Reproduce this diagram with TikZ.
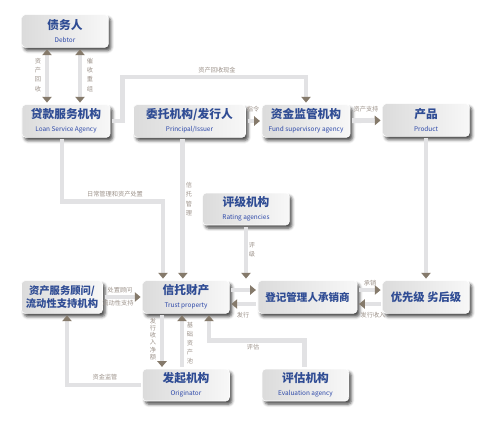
\documentclass[tikz,border=0pt]{standalone}
\usepackage{fontspec}
\setmainfont{Noto Sans CJK SC}
\usepackage{tikz}
\usetikzlibrary{arrows.meta, shadows.blur, calc}
\definecolor{linec}{HTML}{E2E2E4}
\definecolor{tipc}{HTML}{857A6B}
\definecolor{lblc}{HTML}{9C928A}
\definecolor{ttlc}{HTML}{2F4C94}
\definecolor{subc}{HTML}{2A46A8}
\newcommand{\subf}{\fontsize{5.5}{6.5}\selectfont\mdseries\color{subc}}
\tikzset{
    ibox/.style={rectangle, rounded corners=3pt, draw=white, line width=0.5pt,
                 left color=gray!28, right color=gray!6, align=center,
                 minimum width=2.6cm, minimum height=0.98cm, inner sep=1pt,
                 font=\fontsize{10}{12}\selectfont\bfseries, text=ttlc,
                 blur shadow={shadow xshift=2.2pt, shadow yshift=-2.8pt,
                              shadow blur radius=2.5pt, shadow opacity=70}},
    conn/.style={line width=4.2pt, draw=linec, shorten >=1.5pt, shorten <=1.5pt},
    arr/.style={conn, -{Triangle[color=tipc, length=5pt, width=8pt]}},
    arrboth/.style={conn, {Triangle[color=tipc, length=5pt, width=8pt]}-{Triangle[color=tipc, length=5pt, width=8pt]}},
    lbl/.style={font=\fontsize{5.3}{6}\selectfont, text=lblc, inner sep=0pt},
    vlbl/.style={lbl, align=center, font=\fontsize{5.3}{7.8}\selectfont}
}
\begin{document}
\begin{tikzpicture}[x=0.03cm, y=-0.03cm]
\useasboundingbox (0,0) rectangle (487,423);
% ── Top row ───────────────────────────────────────────────────────────
\node[ibox] at (65,31)    (debtor)  {债务人\\[-1pt]{\subf Debtor}};
\node[ibox, minimum width=2.64cm] at (66,121) (lsa) {贷款服务机构\\[-1pt]{\subf Loan Service Agency}};
\node[ibox, minimum width=3.36cm] at (189.5,121) (issuer) {委托机构/发行人\\[-1pt]{\subf Principal/Issuer}};
\node[ibox, minimum width=2.64cm] at (306,121) (fund) {资金监管机构\\[-1pt]{\subf Fund supervisory agency}};
\node[ibox] at (426,120)  (product) {产品\\[-1pt]{\subf Product}};

% ── Middle ────────────────────────────────────────────────────────────
\node[ibox, minimum height=0.96cm] at (246,209) (rating) {评级机构\\[-1pt]{\subf Rating agencies}};
\node[ibox, minimum width=2.43cm, font=\fontsize{8.8}{11}\selectfont\bfseries] at (62,297) (advisor) {资产服务顾问/\\流动性支持机构};
\node[ibox] at (186,297)  (trust)   {信托财产\\[-1pt]{\subf Trust property}};
\node[ibox, minimum width=2.97cm, font=\fontsize{9}{11}\selectfont\bfseries] at (307.5,297) (registrar) {登记管理人承销商};
\node[ibox, font=\fontsize{9.6}{11}\selectfont\bfseries] at (426,297) (tranche) {优先级\ 劣后级};

% ── Bottom row ────────────────────────────────────────────────────────
\node[ibox, minimum height=0.96cm] at (186,385) (originator) {发起机构\\[-1pt]{\subf Originator}};
\node[ibox, minimum height=0.96cm] at (305.5,385) (evaluation) {评估机构\\[-1pt]{\subf Evaluation agency}};

% ── Connectors ────────────────────────────────────────────────────────
\draw[arrboth] ([xshift=-0.54cm]debtor.south) -- ([xshift=-0.54cm]debtor.south |- lsa.north);
\draw[arrboth] ([xshift=0.45cm]debtor.south) -- ([xshift=0.45cm]debtor.south |- lsa.north);
\draw[arr] (lsa.east) -- ++(12,0) -- ++(0,-44) -| (fund.north);
\draw[arr] (issuer) -- (fund);
\draw[arr] (fund) -- (product);
\draw[arr] (product) -- (tranche);

\draw[arr] ([xshift=-0.12cm]lsa.south) -- ++(0,64) -| ([xshift=-0.69cm]trust.north);
\draw[arr] ([xshift=-0.2cm]issuer.south) -- ([xshift=-0.2cm]issuer.south |- trust.north);
\draw[arr] (rating.south) -- (rating.south |- trust.north);

\draw[arr] (advisor) -- (trust);
\draw[arr] ([yshift=0.21cm]trust.east) -- ([yshift=0.21cm]trust.east -| registrar.west);
\draw[arr] ([yshift=-0.21cm]registrar.west) -- ([yshift=-0.21cm]registrar.west -| trust.east);
\draw[arr] ([yshift=0.21cm]registrar.east) -- ([yshift=0.21cm]registrar.east -| tranche.west);
\draw[arr] ([yshift=-0.21cm]tranche.west) -- ([yshift=-0.21cm]tranche.west -| registrar.east);

\draw[arr] ([xshift=-0.72cm]trust.south) -- ([xshift=-0.72cm]trust.south |- originator.north);
\draw[arr] ([xshift=-0.12cm]originator.north) -- ([xshift=-0.12cm]originator.north |- trust.south);
\draw[arr] ([xshift=-0.03cm]evaluation.north) -- ++(0,-28) -| ([xshift=0.69cm]trust.south);
\draw[arr] (originator.west) -| ([xshift=0.15cm]advisor.south);

% ── Labels ────────────────────────────────────────────────────────────
\node[vlbl] at (38,75)   (l-rec)  {资\\产\\回\\收};
\node[vlbl] at (90,75)   (l-col)  {催\\收\\重\\组};
\node[lbl]  at (217,70)  (l-cash) {资产回收现金};
\node[lbl]  at (253,109) (l-cmd)  {指令};
\node[lbl]  at (366,109) (l-sup)  {资产支持};
\node[lbl]  at (115,194) (l-mgmt) {日常管理和资产处置};
\node[vlbl] at (189,199) (l-trm)  {信\\托\\管\\理};
\node[vlbl] at (252,250) (l-rtg)  {评\\级};
\node[lbl]  at (120,290) (l-adv)  {处置顾问};
\node[lbl]  at (118,303) (l-liq)  {流动性支持};
\node[lbl]  at (243,315) (l-iss)  {发行};
\node[lbl]  at (370,283) (l-uw)   {承销};
\node[lbl]  at (373,315) (l-inc)  {发行收入};
\node[vlbl, font=\fontsize{5.3}{6.1}\selectfont] at (153,339) (l-net) {发\\行\\收\\入\\净\\额};
\node[vlbl] at (190,343) (l-pool) {基\\础\\资\\产\\池};
\node[lbl]  at (253,347) (l-eva)  {评估};
\node[lbl]  at (105,377) (l-fund) {资金监管};
\end{tikzpicture}
\end{document}
